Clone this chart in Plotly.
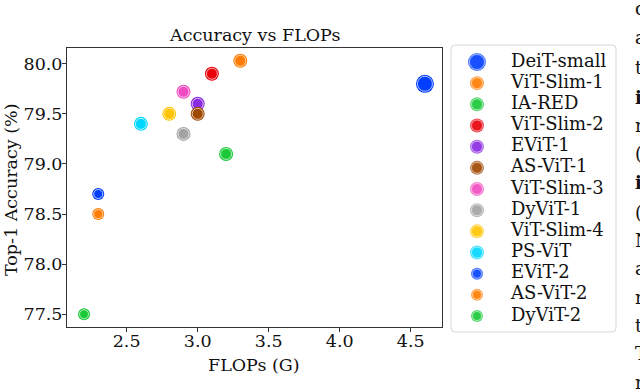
import plotly.graph_objects as go

# model name, FLOPs (G), top-1 accuracy (%)
models = ["DeiT-small", "ViT-Slim-1", "IA-RED", "ViT-Slim-2", "EViT-1", "AS-ViT-1",
          "ViT-Slim-3", "DyViT-1", "ViT-Slim-4", "PS-ViT", "EViT-2", "AS-ViT-2", "DyViT-2"]
flops = [4.6, 3.3, 3.2, 3.1, 3.0, 3.0, 2.9, 2.9, 2.8, 2.6, 2.3, 2.3, 2.2]
acc = [79.8, 80.03, 79.1, 79.9, 79.6, 79.5, 79.72, 79.3, 79.5, 79.4, 78.7, 78.5, 77.5]
sizes = [18, 14, 14, 14, 14, 14, 14, 14, 14, 14, 12, 12, 12]

colors = ["#023eff", "#ff7c00", "#1ac938", "#e8000b", "#8b2be2", "#9f4800",
          "#f14cc1", "#a3a3a3", "#ffc400", "#00d7ff", "#023eff", "#ff7c00", "#1ac938"]

# clipped words of the paper text beside the figure
side_letters = ["c", "a", "t", "<b>i</b>", "r", "(", "<b>i</b>", "(", "N", "a", "r", "t", "T", "r"]
side_y = [8, 38, 67, 97, 125, 153, 182, 212, 240, 268, 297, 325, 353, 382]

serif = "DejaVu Serif"
W, H = 640, 392
L, R, T, B = 67, 442, 48, 327          # main plot area (px)
LL, LR, LT, LB = 451, 616, 45, 332     # legend box (px)
ROW0, ROWSTEP = 62, 21.17              # legend rows (px)

def px_x(p):
    return p / W

def px_y(p):
    return 1 - p / H

fig = go.Figure()
for m, x, y, s, c in zip(models, flops, acc, sizes, colors):
    # solid disc underneath, then a slightly smaller one with a white dotted rim
    fig.add_trace(go.Scatter(x=[x], y=[y], mode="markers", showlegend=False,
                             marker=dict(size=s, color=c, line=dict(width=0)),
                             hoverinfo="skip"))
    fig.add_trace(go.Scatter(x=[x], y=[y], mode="markers", name=m, showlegend=False,
                             marker=dict(size=s - 3, color=c,
                                         line=dict(width=0.8, color="rgba(255,255,255,0.85)"))))

# legend drawn on its own little axis, one row per model
leg_x = [26] * len(models)
fig.add_trace(go.Scatter(x=leg_x, y=models, xaxis="x2", yaxis="y2", mode="markers",
                         showlegend=False, hoverinfo="skip",
                         marker=dict(size=sizes, color=colors, line=dict(width=0))))
fig.add_trace(go.Scatter(x=leg_x, y=models, xaxis="x2", yaxis="y2", mode="markers",
                         showlegend=False, hoverinfo="skip",
                         marker=dict(size=[s - 3 for s in sizes], color=colors,
                                     line=dict(width=0.8, color="rgba(255,255,255,0.85)"))))
fig.add_trace(go.Scatter(x=[60] * len(models), y=models, xaxis="x2", yaxis="y2", mode="text",
                         text=models, textposition="middle right", showlegend=False,
                         hoverinfo="skip", textfont=dict(family=serif, size=18, color="#111")))

# legend frame with rounded corners
r = 4
x0, x1, y0, y1 = LL, LR, LT, LB
path = (f"M {px_x(x0 + r)},{px_y(y0)} L {px_x(x1 - r)},{px_y(y0)} "
        f"Q {px_x(x1)},{px_y(y0)} {px_x(x1)},{px_y(y0 + r)} "
        f"L {px_x(x1)},{px_y(y1 - r)} Q {px_x(x1)},{px_y(y1)} {px_x(x1 - r)},{px_y(y1)} "
        f"L {px_x(x0 + r)},{px_y(y1)} Q {px_x(x0)},{px_y(y1)} {px_x(x0)},{px_y(y1 - r)} "
        f"L {px_x(x0)},{px_y(y0 + r)} Q {px_x(x0)},{px_y(y0)} {px_x(x0 + r)},{px_y(y0)} Z")
fig.add_shape(type="path", path=path, xref="paper", yref="paper",
              line=dict(color="#d6d6d6", width=1), layer="below")

for t, py in zip(side_letters, side_y):
    fig.add_annotation(text=t, x=px_x(633), y=px_y(py), xref="paper", yref="paper",
                       showarrow=False, xanchor="left", yanchor="middle",
                       font=dict(family=serif, size=18, color="#111"))

def label(text, x, y, angle=0):
    fig.add_annotation(text=text, x=px_x(x), y=px_y(y), xref="paper", yref="paper",
                       showarrow=False, xanchor="center", yanchor="middle", textangle=angle,
                       font=dict(family=serif, size=17.5, color="#111"))

label("Accuracy vs FLOPs", (L + R) / 2, 35)
label("FLOPs (G)", 254, 365)
label("Top-1 Accuracy (%)", 11, 190, -90)

axis_style = dict(showgrid=False, zeroline=False, showline=True, linecolor="#333",
                  linewidth=1, mirror=True, ticks="outside", ticklen=4, tickcolor="#333",
                  automargin=False, tickfont=dict(size=17.5), fixedrange=True)

fig.update_layout(
    width=W, height=H,
    margin=dict(l=0, r=0, t=0, b=0),
    paper_bgcolor="white", plot_bgcolor="white",
    font=dict(family=serif, size=17.5, color="#111"),
    showlegend=False,
    xaxis=dict(domain=[px_x(L), px_x(R)], range=[2.08, 4.72],
               tickvals=[2.5, 3.0, 3.5, 4.0, 4.5],
               ticktext=["2.5", "3.0", "3.5", "4.0", "4.5"],
               ticklabelstandoff=-6, **axis_style),
    yaxis=dict(domain=[px_y(B), px_y(T)], range=[77.373, 80.157],
               tickvals=[77.5, 78.0, 78.5, 79.0, 79.5, 80.0],
               ticktext=["77.5", "78.0", "78.5", "79.0", "79.5", "80.0"],
               ticklabelstandoff=-4, **axis_style),
    xaxis2=dict(domain=[px_x(LL), px_x(LR)], range=[0, LR - LL], anchor="y2",
                visible=False, fixedrange=True),
    yaxis2=dict(domain=[px_y(LB), px_y(LT)], type="category", categoryarray=models,
                range=[(LB - ROW0) / ROWSTEP, -(ROW0 - LT) / ROWSTEP], anchor="x2",
                visible=False, fixedrange=True),
)

# the page body has a default margin; drop it so the figure fills the window
fig.write_html("out.html", config={"displayModeBar": False},
               post_script="document.body.style.margin='0';")
